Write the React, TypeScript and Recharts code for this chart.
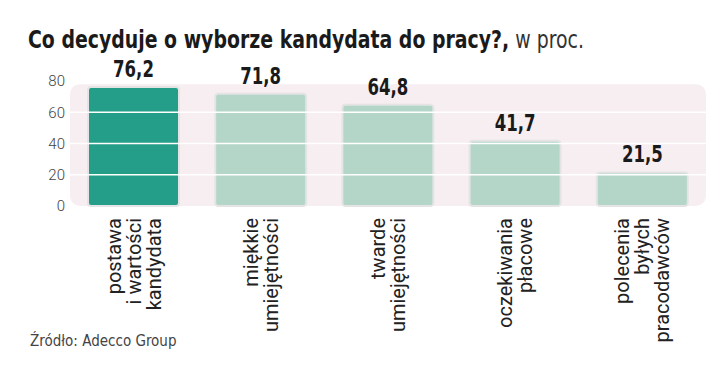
import React from 'react';
import { BarChart, Bar, XAxis, YAxis, Cell, LabelList, ReferenceArea, ReferenceLine } from 'recharts';

const categories = [
  'postawa\ni wartości\nkandydata',
  'miękkie\numiejętności',
  'twarde\numiejętności',
  'oczekiwania\npłacowe',
  'polecenia\nbyłych\npracodawców',
];
const values = [76.2, 71.8, 64.8, 41.7, 21.5];
const yTicks = [0, 20, 40, 60, 80];
const gridLines = [20, 40, 60];

const data = categories.map((name, i) => ({ name, value: values[i] }));

const narrow = "'Liberation Sans Narrow', 'DejaVu Sans Condensed', 'Roboto Condensed', sans-serif";

const CategoryTick = (props: any) => {
  const { x, y, payload } = props;
  const lines: string[] = String(payload.value).split('\n');
  const pitch = 20;
  return (
    <g transform={`translate(${x},${y})`}>
      <text transform="rotate(-90)" textAnchor="end" fontFamily="Roboto, sans-serif" fontSize={20} fill="#222">
        {lines.map((l, i) => (
          <tspan key={i} x={-10} y={(i - (lines.length - 1) / 2) * pitch + 7}>{l}</tspan>
        ))}
      </text>
    </g>
  );
};

const ValueLabel = (props: any) => {
  const { x, y, width, value } = props;
  const cx = x + width / 2;
  return (
    <text transform={`translate(${cx},${y - 10}) scale(0.8,1)`} textAnchor="middle"
      fontFamily={narrow} fontWeight={700} fontSize={23} fill="#1a1a1a">
      {String(value).replace('.', ',')}
    </text>
  );
};

export default function App() {
  return (
    <div style={{ position: 'absolute', left: 0, top: 0, width: 720, height: 385, background: '#fff', overflow: 'hidden' }}>
      <div style={{ position: 'absolute', left: 28, top: 25, fontFamily: narrow, fontSize: 25, color: '#1a1a1a', whiteSpace: 'nowrap', transform: 'scaleX(0.84)', transformOrigin: 'left top' }}>
        <span style={{ fontWeight: 700 }}>Co decyduje o wyborze kandydata do pracy?,</span>
        <span style={{ fontWeight: 400, color: '#333' }}> w proc.</span>
      </div>
      <div style={{ position: 'absolute', left: 30, top: 332, fontFamily: narrow, fontSize: 15, color: '#444' }}>
        Źródło: Adecco Group
      </div>
      <BarChart width={720} height={385} data={data} margin={{ top: 81, right: 14, bottom: 149, left: 0 }} barCategoryGap={36}>
        <ReferenceArea y1={0} y2={78} fill="#f7eef1" fillOpacity={1} stroke="none" radius={10} ifOverflow="visible" />
        {gridLines.map((g) => (
          <ReferenceLine key={g} y={g} stroke="#ffffff" strokeWidth={1.5} />
        ))}
        <XAxis dataKey="name" height={30} axisLine={false} tickLine={false} tickSize={0} interval={0} tick={<CategoryTick />} />
        <YAxis width={70} domain={[0, 80]} ticks={yTicks} axisLine={false} tickLine={false} tickSize={3}
          tick={{ fill: '#444', fontSize: 15, fontFamily: 'Roboto', fontWeight: 300 }} />
        <Bar dataKey="value" isAnimationActive={false} barSize={91} stroke="#e4e4e4" strokeWidth={2} radius={3}>
          {data.map((d, i) => (
            <Cell key={i} fill={i === 0 ? '#249e88' : '#b3d6c9'} />
          ))}
          <LabelList dataKey="value" content={<ValueLabel />} />
        </Bar>
      </BarChart>
    </div>
  );
}
